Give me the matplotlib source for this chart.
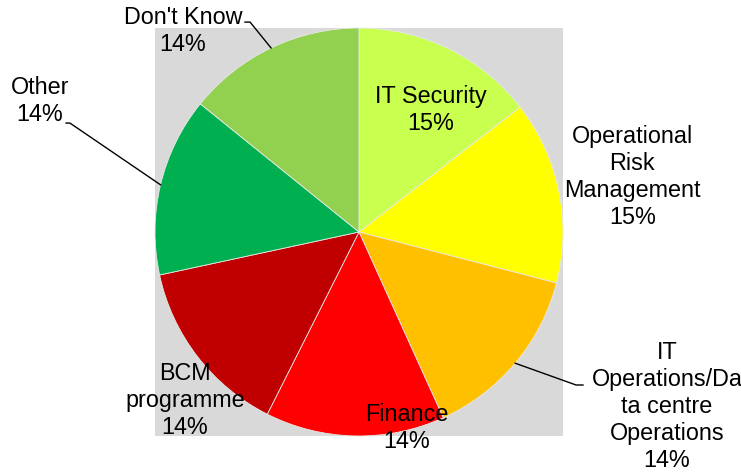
import matplotlib.pyplot as plt
import numpy as np

plt.rcParams['font.family'] = ['Liberation Sans', 'DejaVu Sans']

# share of respondents per area (%)
areas = ['IT Security', 'Operational\nRisk\nManagement', 'IT\nOperations/Da\nta centre\nOperations',
         'Finance', 'BCM\nprogramme', 'Other', "Don't Know"]
share = [14.51, 14.51, 14.2, 14.2, 14.2, 14.19, 14.19]
colors = ['#C9FF4F', '#FFFF00', '#FFC000', '#FF0000', '#C00000', '#00B050', '#92D050']

# label placement (data coords, pie radius = 1)
label_pos = [(0.35, 0.60), (1.34, 0.27), (1.51, -0.855), (0.235, -0.96),
             (-0.853, -0.824), (-1.564, 0.642), (-0.863, 0.985)]
# leader lines: elbow point and tail next to the label
leader_start = {2: (1.064, -0.75), 5: (-1.417, 0.534), 6: (-0.534, 1.029)}
leader_tail = {2: (1.098, -0.75), 5: (-1.436, 0.534), 6: (-0.559, 1.029)}

fig = plt.figure(figsize=(7.41, 4.76), dpi=100)
ax = fig.add_axes([155 / 741, 40 / 476, 408 / 741, 408 / 476])

wedges, _ = ax.pie(share, colors=colors, startangle=90, counterclock=False, radius=1,
                   frame=True, wedgeprops=dict(edgecolor='#E8E8E8', linewidth=0.6))
ax.set_facecolor('#D9D9D9')
ax.set_xlim(-1, 1)
ax.set_ylim(-1, 1)
ax.set_aspect('equal')
for s in ax.spines.values():
    s.set_visible(False)
ax.set_xticks([])
ax.set_yticks([])

total = sum(share)
for i, (name, v) in enumerate(zip(areas, share)):
    pct = '%.0f%%' % (100.0 * v / total)
    x, y = label_pos[i]
    ax.text(x, y, name + '\n' + pct, ha='center', va='center', fontsize=16.8,
            linespacing=1.22, clip_on=False)
    if i in leader_start:
        w = wedges[i]
        mid = np.deg2rad((w.theta1 + w.theta2) / 2)
        ex, ey = np.cos(mid), np.sin(mid)
        sx, sy = leader_start[i]
        tx, ty = leader_tail[i]
        ax.plot([ex, sx, tx], [ey, sy, ty], color='black', lw=1, clip_on=False,
                solid_joinstyle='miter')

fig.savefig('out.png', dpi=100)
